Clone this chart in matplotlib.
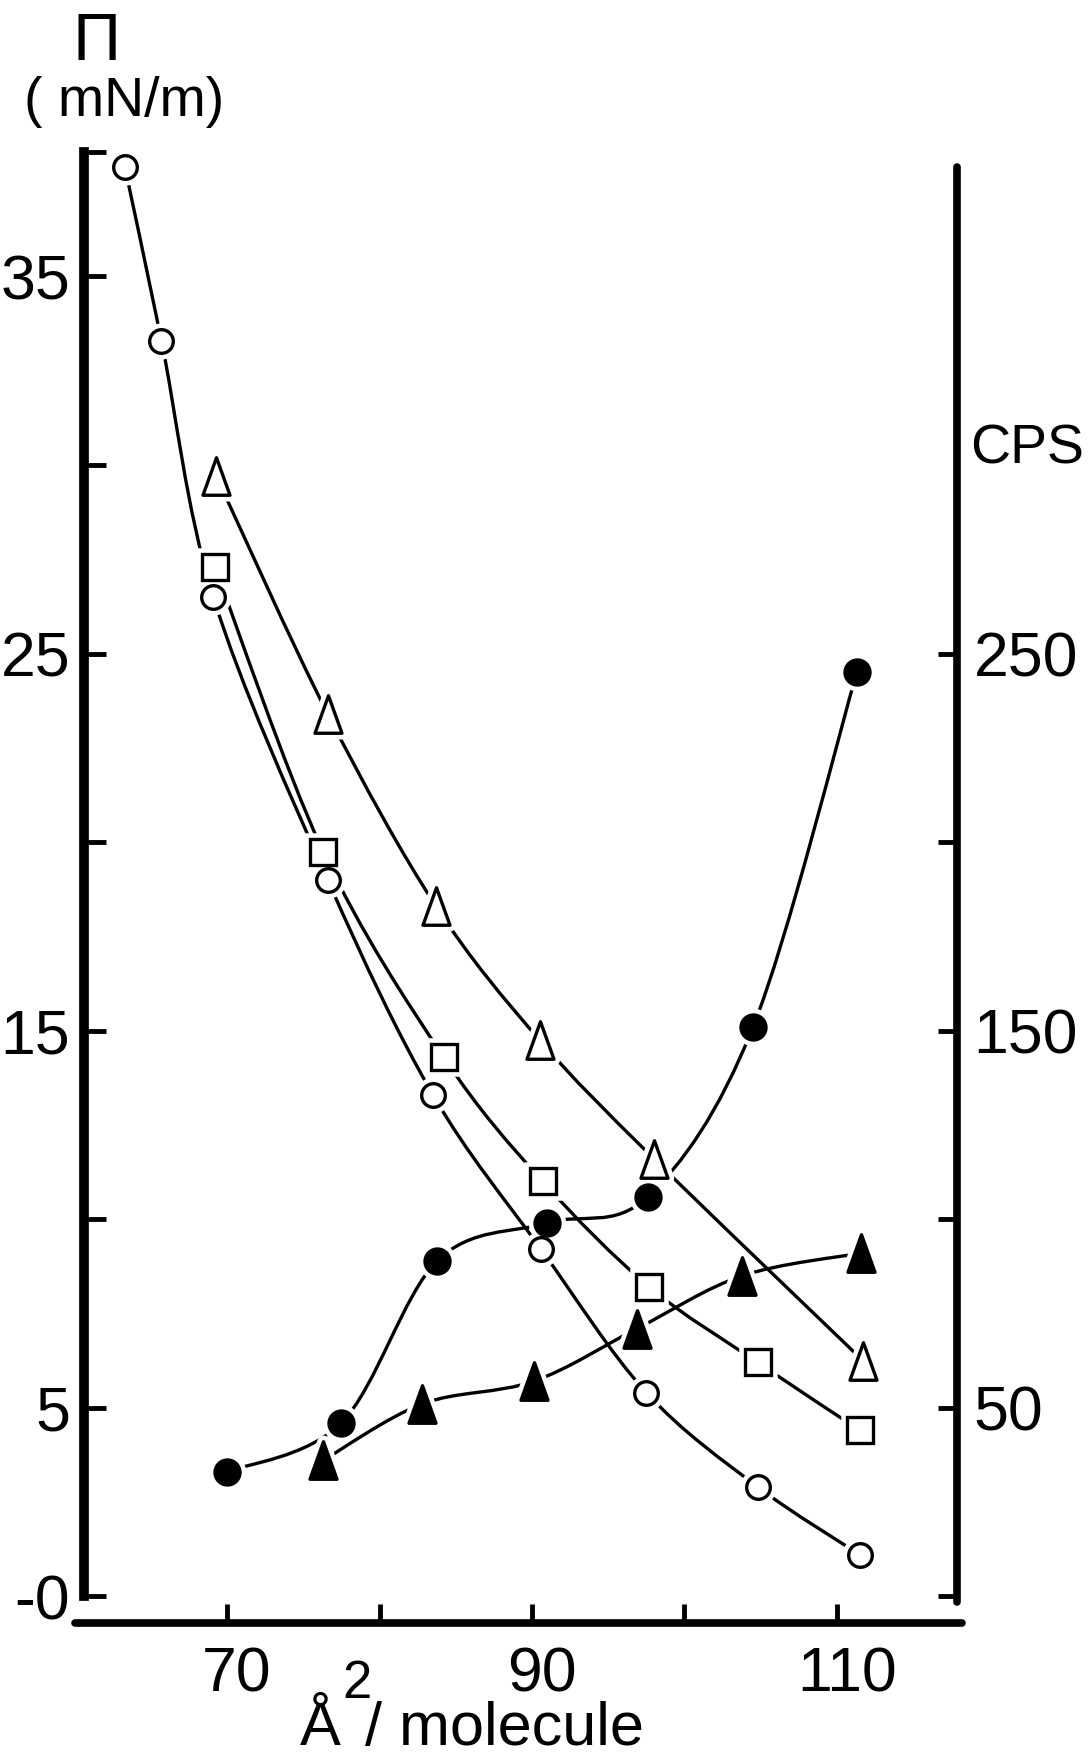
import matplotlib
matplotlib.use("Agg")
import matplotlib.pyplot as plt
from matplotlib.path import Path
from matplotlib.patches import PathPatch
from matplotlib.transforms import ScaledTranslation
import numpy as np

NARROW = ['Liberation Sans Narrow', 'Liberation Sans', 'DejaVu Sans']
REGULAR = ['Liberation Sans', 'DejaVu Sans']
plt.rcParams['font.family'] = NARROW

# surface pressure (mN/m) against area per molecule, three isotherms
area_circle = [63.3, 65.7, 69.1, 76.6, 83.5, 90.6, 97.5, 104.8, 111.5]
pi_circle = [37.9, 33.3, 26.5, 19.0, 13.3, 9.2, 5.4, 2.9, 1.1]

area_square = [69.2, 76.3, 84.2, 90.7, 97.7, 104.8, 111.5]
pi_square = [27.3, 19.75, 14.3, 11.0, 8.2, 6.2, 4.4]

area_tri = [69.3, 76.6, 83.7, 90.5, 98.0, 111.7]
pi_tri = [29.7, 23.4, 18.3, 14.75, 11.6, 6.25]

# counts per second (right axis)
area_dot = [70.0, 77.5, 83.8, 91.0, 97.6, 104.5, 111.3]
cps_dot = [33, 46, 89, 99, 106, 151, 245]

area_ftri = [76.3, 82.8, 90.1, 96.9, 103.8, 111.6]
cps_ftri = [36, 51, 57, 71, 85, 91]

x_ticks = [70, 80, 90, 100, 110]
x_labels = ['70', '', '90', '', '110']
left_ticks = [0, 5, 10, 15, 20, 25, 30, 35, 38.3]
left_labels = ['-0', '5', '', '15', '', '25', '', '35', '']
right_ticks = [0, 50, 100, 150, 200, 250]
right_labels = ['', '50', '', '150', '', '250']

W, H = 1092, 1762


def smooth_path(xs, ys):
    # bezier path through the points (catmull-rom tangents)
    pts = np.column_stack([xs, ys]).astype(float)
    verts = [pts[0]]
    codes = [Path.MOVETO]
    n = len(pts)
    for i in range(n - 1):
        p0 = pts[max(i - 1, 0)]
        p1 = pts[i]
        p2 = pts[i + 1]
        p3 = pts[min(i + 2, n - 1)]
        verts += [p1 + (p2 - p0) / 6, p2 - (p3 - p1) / 6, p2]
        codes += [Path.CURVE4] * 3
    return Path(verts, codes)


tri = Path([(-0.36, -0.5), (0.36, -0.5), (0, 0.5), (0, 0)],
           [Path.MOVETO, Path.LINETO, Path.LINETO, Path.CLOSEPOLY])


def draw(ax, xs, ys, marker, filled, ms, transform):
    ax.add_patch(PathPatch(smooth_path(xs, ys), fill=False, lw=2.4, ec='black',
                           transform=transform, zorder=2, capstyle='round'))
    ax.plot(xs, ys, ls='none', marker=marker, ms=ms, mfc='white', mec='white',
            mew=9, transform=transform, zorder=3)
    ax.plot(xs, ys, ls='none', marker=marker, ms=ms,
            mfc='black' if filled else 'white', mec='black', mew=2.4,
            transform=transform, zorder=4)


fig = plt.figure(figsize=(W / 100, H / 100), dpi=100)
ax = fig.add_axes([75 / W, (H - 1623) / H, (962 - 75) / W, (1623 - 144.5) / H])
ax2 = ax.twinx()

ax.set_xlim(60.03, 118.2)
ax.set_ylim(-0.71, 38.5)
ax2.set_ylim(-7.1, 385)

draw(ax, area_circle, pi_circle, 'o', False, 17, ax.transData)
draw(ax, area_square, pi_square, 's', False, 19, ax.transData)
draw(ax, area_tri, pi_tri, tri, False, 27, ax.transData)
draw(ax, area_dot, cps_dot, 'o', True, 18, ax2.transData)
draw(ax, area_ftri, cps_ftri, tri, True, 27, ax2.transData)

ax.set_zorder(ax2.get_zorder() + 1)
ax.patch.set_visible(False)

for s in ['top', 'right']:
    ax.spines[s].set_visible(False)
for s in ['top', 'left', 'bottom']:
    ax2.spines[s].set_visible(False)

ax.spines['left'].set_position(('data', 60.62))
ax.spines['left'].set_bounds(0, 38.3)
ax.spines['left'].set_linewidth(7)
ax.spines['bottom'].set_linewidth(5.5)
ax.spines['bottom'].set_capstyle('round')
ax2.spines['right'].set_position(('data', 117.87))
ax2.spines['right'].set_bounds(-1.5, 379)
ax2.spines['right'].set_linewidth(5.5)
ax2.spines['right'].set_capstyle('round')

ax.set_xticks(x_ticks)
ax.set_xticklabels(x_labels)
ax.set_yticks(left_ticks)
ax.set_yticklabels(left_labels)
ax2.set_yticks(right_ticks)
ax2.set_yticklabels(right_labels)

ax.tick_params(axis='x', direction='in', length=14, width=3.5, pad=16, labelsize=45)
ax.tick_params(axis='y', direction='in', length=16, width=3.5, pad=10, labelsize=45)
ax2.tick_params(axis='y', direction='in', length=14, width=3.5, pad=12, labelsize=45)

# hand lettered numbers sit a little right of their ticks
shift = ScaledTranslation(10 / 100, 0, fig.dpi_scale_trans)
for lbl in ax.get_xticklabels():
    lbl.set_transform(lbl.get_transform() + shift)


def ftext(x, y, s, **kw):
    fig.text(x / W, 1 - y / H, s, **kw)


ftext(97, 60, 'Π', ha='center', va='baseline', fontsize=48, family=REGULAR)
ftext(124, 116, '( mN/m)', ha='center', va='baseline', fontsize=40, family=REGULAR)
ftext(970, 463, 'CPS', ha='left', va='baseline', fontsize=40, family=REGULAR)
# x label: Å, raised 2, then "/ molecule"
ftext(300, 1745, 'Å', ha='left', va='baseline', fontsize=44, family=REGULAR)
ftext(342, 1698, '2', ha='left', va='baseline', fontsize=38)
ftext(365, 1745, '/ molecule', ha='left', va='baseline', fontsize=44, family=REGULAR)

fig.savefig('out.png', dpi=100, facecolor='white')
